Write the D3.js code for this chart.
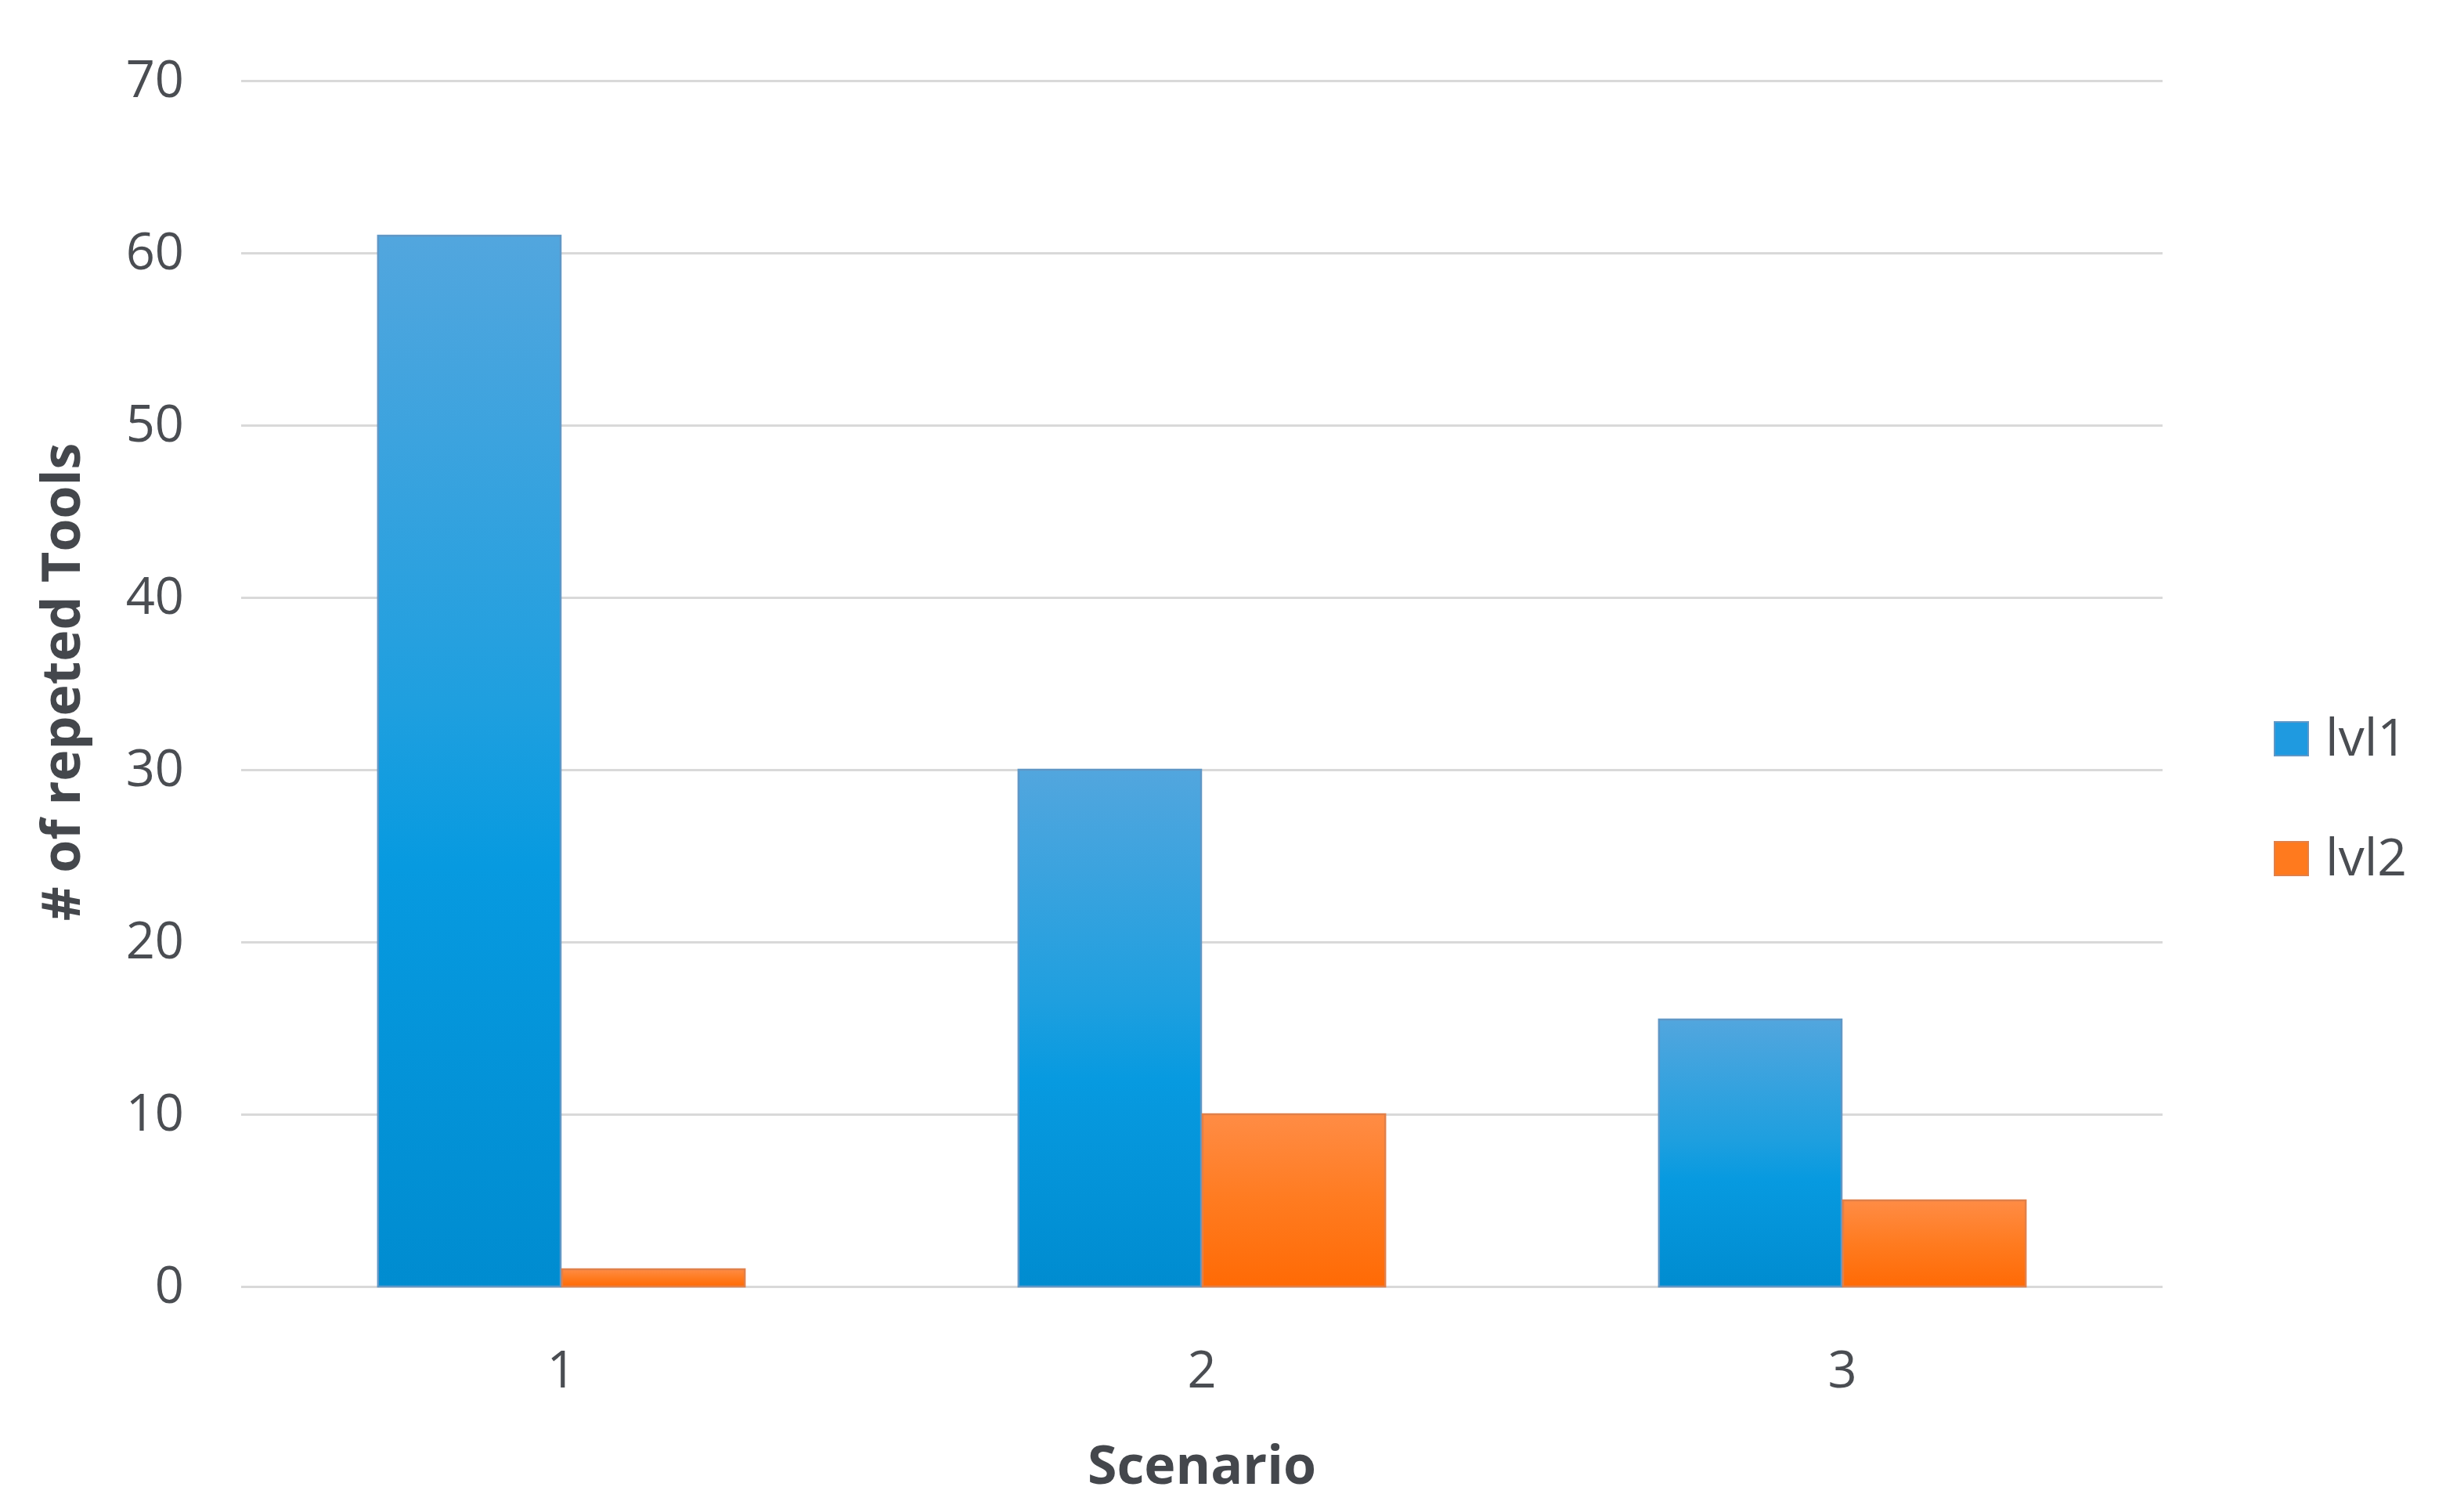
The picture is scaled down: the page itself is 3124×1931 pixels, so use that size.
<!DOCTYPE html>
<html>
<head>
<meta charset="utf-8">
<script src="https://cdn.jsdelivr.net/npm/d3@7"></script>
<style>
  html, body { margin: 0; padding: 0; background: #ffffff; }
  svg { display: block; }
</style>
</head>
<body>
<svg id="chart" width="3124" height="1931"></svg>
<script>
// ---- data ----
const scenarios = ["1", "2", "3"];
const seriesNames = ["lvl1", "lvl2"];
const lvl1Values = [61, 30, 15.5];
const lvl2Values = [1, 10, 5];
const yTicks = [0, 10, 20, 30, 40, 50, 60, 70];

// ---- layout ----
const W = 3124, H = 1931;
const plot = { left: 308, right: 2762, top: 103, bottom: 1643 };
const fontTick = "'Open Sans', 'Noto Sans', sans-serif";
const textColor = "#4a4d52";
const titleColor = "#44474c";

const svg = d3.select("#chart");

const x = d3.scaleBand()
  .domain(scenarios)
  .range([plot.left, plot.right])
  .paddingInner(0.425)
  .paddingOuter(0.2125);

const xs = d3.scaleBand()
  .domain(seriesNames)
  .range([0, x.bandwidth()])
  .padding(0);

const y = d3.scaleLinear()
  .domain([0, 70])
  .range([plot.bottom, plot.top]);

// gradients
const defs = svg.append("defs");
const gradSpecs = {
  lvl1: [["0%", "#52a6de"], ["45%", "#1e9fdf"], ["60%", "#079ae0"], ["100%", "#008cd0"]],
  lvl2: [["0%", "#ff8c45"], ["50%", "#ff7b20"], ["100%", "#ff6a05"]]
};
Object.entries(gradSpecs).forEach(([k, stops]) => {
  const g = defs.append("linearGradient").attr("id", "grad-" + k)
    .attr("x1", 0).attr("y1", 0).attr("x2", 0).attr("y2", 1);
  stops.forEach(([o, c]) => g.append("stop").attr("offset", o).attr("stop-color", c));
});
const strokeColors = { lvl1: "#5f97c6", lvl2: "#e0804a" };
const legendColors = { lvl1: "#1f9ae0", lvl2: "#ff7a1e" };

// gridlines + y axis labels via d3 axis
const yAxis = d3.axisLeft(y)
  .tickValues(yTicks)
  .tickSize(-(plot.right - plot.left))
  .tickPadding(73)
  .tickFormat(d3.format("d"));

const gy = svg.append("g")
  .attr("transform", `translate(${plot.left},0)`)
  .call(yAxis);
gy.select(".domain").remove();
gy.selectAll(".tick line").attr("stroke", "#d9d9d9").attr("stroke-width", 3);
gy.selectAll(".tick text")
  .attr("fill", textColor)
  .style("font-family", fontTick)
  .style("font-size", "65px");

// x axis labels
const xAxis = d3.axisBottom(x).tickSize(0).tickPadding(0);
const gx = svg.append("g")
  .attr("transform", `translate(0,${plot.bottom})`)
  .call(xAxis);
gx.select(".domain").remove();
gx.selectAll(".tick text")
  .attr("fill", textColor)
  .attr("dy", 0)
  .attr("y", 129)
  .style("font-family", fontTick)
  .style("font-size", "65px");

// bars
const rows = scenarios.map((s, i) => ({ s, lvl1: lvl1Values[i], lvl2: lvl2Values[i] }));
const groups = svg.append("g").selectAll("g")
  .data(rows).join("g")
  .attr("transform", d => `translate(${x(d.s)},0)`);

groups.selectAll("rect")
  .data(d => seriesNames.map(k => ({ k, v: d[k] })))
  .join("rect")
  .attr("x", d => xs(d.k) + 1)
  .attr("width", xs.bandwidth() - 2)
  .attr("y", d => y(d.v))
  .attr("height", d => y(0) - y(d.v))
  .attr("fill", d => `url(#grad-${d.k})`)
  .attr("stroke", d => strokeColors[d.k])
  .attr("stroke-width", 2.5);

// axis titles
svg.append("text")
  .attr("x", (plot.left + plot.right) / 2)
  .attr("y", 1895)
  .attr("text-anchor", "middle")
  .attr("fill", titleColor)
  .style("font-family", fontTick)
  .style("font-weight", "bold")
  .style("font-size", "68px")
  .text("Scenario");

svg.append("text")
  .attr("transform", `translate(102,${(plot.top + plot.bottom) / 2 - 2}) rotate(-90)`)
  .attr("text-anchor", "middle")
  .attr("fill", titleColor)
  .style("font-family", fontTick)
  .style("font-weight", "bold")
  .style("font-size", "68px")
  .text("# of repeted Tools");

// legend
const legend = svg.append("g").selectAll("g")
  .data(seriesNames).join("g")
  .attr("transform", (d, i) => `translate(2905,${922 + i * 153})`);
legend.append("rect")
  .attr("width", 43).attr("height", 43)
  .attr("fill", d => legendColors[d])
  .attr("stroke", d => strokeColors[d])
  .attr("stroke-width", 2);
legend.append("text")
  .attr("x", 65)
  .attr("y", 43)
  .attr("fill", textColor)
  .style("font-family", fontTick)
  .style("font-size", "66px")
  .text(d => d);
</script>
</body>
</html>
